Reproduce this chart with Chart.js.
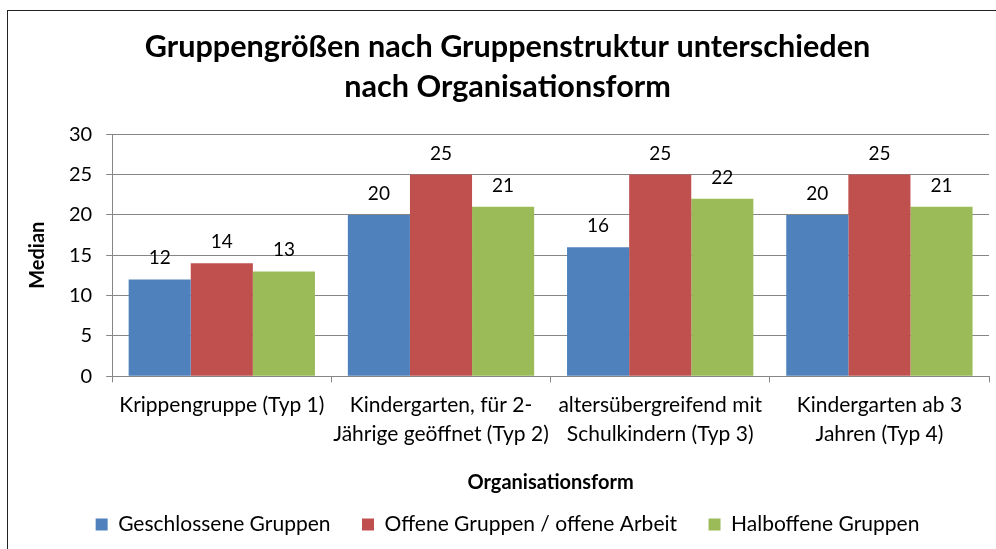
<!DOCTYPE html>
<html>
<head>
<meta charset="utf-8">
<script src="https://cdn.jsdelivr.net/npm/chart.js@4.4.0/dist/chart.umd.min.js"></script>
<style>
html,body{margin:0;padding:0;background:#fff;}
#wrap{position:relative;width:996px;height:549px;overflow:hidden;}
#frame{position:absolute;left:7px;top:10px;width:1000px;height:600px;border:1.5px solid #222;box-sizing:border-box;}
canvas{position:absolute;left:0;top:0;}
</style>
</head>
<body>
<div id="wrap"><div id="frame"></div><canvas id="c" width="996" height="549"></canvas></div>
<script>
const titleLines = ['Gruppengrößen nach Gruppenstruktur unterschieden', 'nach Organisationsform'];
const categories = [
  ['Krippengruppe (Typ 1)'],
  ['Kindergarten, für 2-', 'Jährige geöffnet (Typ 2)'],
  ['altersübergreifend mit', 'Schulkindern (Typ 3)'],
  ['Kindergarten ab 3', 'Jahren (Typ 4)']
];
const seriesNames = ['Geschlossene Gruppen', 'Offene Gruppen / offene Arbeit', 'Halboffene Gruppen'];
const geschlossen = [12, 20, 16, 20];
const offen = [14, 25, 25, 25];
const halboffen = [13, 21, 22, 21];
const yTicks = [0, 5, 10, 15, 20, 25, 30];
const colors = ['#4F81BD', '#C0504D', '#9BBB59'];
const FONT = 'Lato, "Open Sans", sans-serif';

const labelPlugin = {
  id: 'valueLabels',
  afterDatasetsDraw(chart) {
    const ctx = chart.ctx;
    ctx.save();
    ctx.font = '19px ' + FONT;
    ctx.fillStyle = '#000';
    ctx.textAlign = 'center';
    ctx.textBaseline = 'alphabetic';
    chart.data.datasets.forEach((ds, i) => {
      const meta = chart.getDatasetMeta(i);
      meta.data.forEach((bar, j) => {
        ctx.fillText(String(ds.data[j]), bar.x, bar.y - 15);
      });
    });
    ctx.restore();
  }
};

new Chart(document.getElementById('c'), {
  type: 'bar',
  data: {
    labels: categories,
    datasets: [
      { label: seriesNames[0], data: geschlossen, backgroundColor: colors[0] },
      { label: seriesNames[1], data: offen, backgroundColor: colors[1] },
      { label: seriesNames[2], data: halboffen, backgroundColor: colors[2] }
    ]
  },
  options: {
    responsive: false,
    animation: false,
    devicePixelRatio: 1,
    layout: { padding: { left: 26, right: 7, top: 27, bottom: 4 } },
    datasets: { bar: { categoryPercentage: 0.85, barPercentage: 1.0 } },
    plugins: {
      title: {
        display: true,
        text: titleLines,
        color: '#000',
        font: { family: FONT, size: 30.6, weight: 'bold', lineHeight: 1.31 },
        padding: { top: 0, bottom: 27 }
      },
      legend: {
        position: 'bottom',
        labels: {
          color: '#000',
          font: { family: FONT, size: 21 },
          boxWidth: 12,
          boxHeight: 12,
          padding: 10,
          generateLabels(chart) {
            const items = Chart.defaults.plugins.legend.labels.generateLabels(chart);
            items.forEach((it, i) => { if (i < items.length - 1) it.text = it.text + '    '; });
            return items;
          }
        }
      },
      tooltip: { enabled: false }
    },
    scales: {
      x: {
        grid: { display: true, drawOnChartArea: false, offset: true, tickLength: 6, color: '#868686' },
        border: { color: '#868686' },
        ticks: { color: '#000', font: { family: FONT, size: 21, lineHeight: 1.35 }, maxRotation: 0, autoSkip: false, padding: 9 },
        title: { display: true, text: 'Organisationsform', color: '#000', font: { family: FONT, size: 20, weight: 'bold' }, padding: { top: 14, bottom: 9 } }
      },
      y: {
        min: 0, max: 30,
        afterBuildTicks(axis) { axis.ticks = yTicks.map(v => ({ value: v })); },
        grid: { color: '#868686', tickLength: 6 },
        border: { color: '#868686' },
        ticks: { color: '#000', font: { family: FONT, size: 20 }, padding: 14 },
        title: { display: true, text: 'Median', color: '#000', font: { family: FONT, size: 20, weight: 'bold' }, padding: { top: 0, bottom: 5 } }
      }
    }
  },
  plugins: [labelPlugin]
});
</script>
</body>
</html>
